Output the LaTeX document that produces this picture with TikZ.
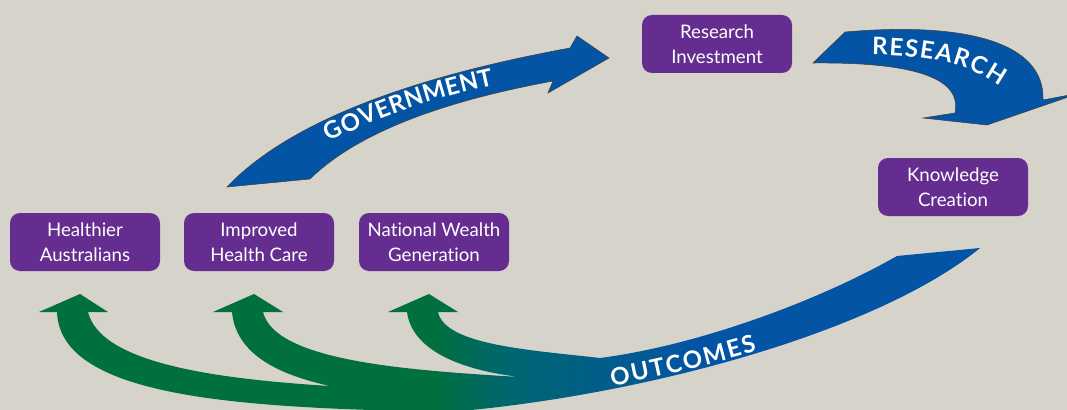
\documentclass[tikz,border=0pt]{standalone}
\usepackage{fontspec}
\setmainfont{Lato}[Ligatures=NoCommon]
\usetikzlibrary{decorations.text}
\definecolor{bgcol}{RGB}{214,211,203}
\definecolor{boxpurple}{RGB}{102,45,145}
\definecolor{arrowblue}{RGB}{3,84,165}
\definecolor{ogreen}{RGB}{0,112,60}
\definecolor{oteal}{RGB}{0,102,112}
\pgfdeclarehorizontalshading{outcomeshade}{100bp}{color(0bp)=(ogreen); color(45.8bp)=(ogreen); color(50bp)=(oteal); color(60bp)=(arrowblue); color(100bp)=(arrowblue)}
\newcommand\arrowfont{\bfseries\fontsize{18}{18}\selectfont}
\begin{document}
\begin{tikzpicture}[x=0.75pt,y=-0.75pt,
    box/.style={fill=boxpurple,text=white,rounded corners=7.5pt,minimum width=112.5pt,
      minimum height=43.5pt,inner sep=0pt,align=center,font=\fontsize{14}{18.5}\selectfont},
    fatarrow/.style={fill=arrowblue,draw=black!75,line width=0.4pt},
    arrowtext/.style={decorate,decoration={text along path,text align=fit to path,
      text color=white,text={|\arrowfont|#1}}}]
  \useasboundingbox (0,0) rectangle (1067,410);
  \fill[bgcol] (0,0) rectangle (1067,410);
  % government
  \filldraw[fatarrow] (227,187) .. controls (300,110) and (450,70) .. (570,48)
    -- (577,36) -- (609,58) -- (548,93) -- (553,81)
    .. controls (450,100) and (360,130) .. (310,179) -- cycle;
  \path[arrowtext=GOVERNMENT] (329,142) .. controls (380,116) and (430,99) .. (494,85);
  % research
  \filldraw[fatarrow] (813,63) -- (845,32) .. controls (960,22) and (1045,40) .. (1043,100)
    -- (1080,93) -- (987,125) -- (923,118) -- (955,113)
    .. controls (962,80) and (920,62) .. (813,63) -- cycle;
  \path[arrowtext=RESEARCH] (872,55) .. controls (925,55) and (970,64) .. (1000,86);
  % outcomes
  \shade[shading=outcomeshade] (980,248) -- (897,256)
    .. controls (820,300) and (700,345) .. (600,358)
    .. controls (530,350) and (445,345) .. (438,312)
    -- (458,312) -- (429,294) -- (388,312) -- (407,312)
    .. controls (412,350) and (460,370) .. (520,377)
    .. controls (400,370) and (275,360) .. (263,312)
    -- (283,312) -- (254,294) -- (213,312) -- (232,312)
    .. controls (236,355) and (280,375) .. (330,386)
    .. controls (200,378) and (100,360) .. (88,312)
    -- (108,312) -- (80,294) -- (39,312) -- (57,312)
    .. controls (60,400) and (250,408) .. (450,412)
    .. controls (650,395) and (880,330) .. (980,248) -- cycle;
  \path[arrowtext=OUTCOMES] (612,386) .. controls (660,377) and (710,365) .. (757,351);
  % boxes
  \node[box] (health) at (85,242) {Healthier\\Australians};
  \node[box] (care) at (259,242) {Improved\\Health Care};
  \node[box] (wealth) at (434,242) {National Wealth\\Generation};
  \node[box] (invest) at (717,44) {Research\\Investment};
  \node[box] (know) at (953,187) {Knowledge\\Creation};
\end{tikzpicture}
\end{document}
